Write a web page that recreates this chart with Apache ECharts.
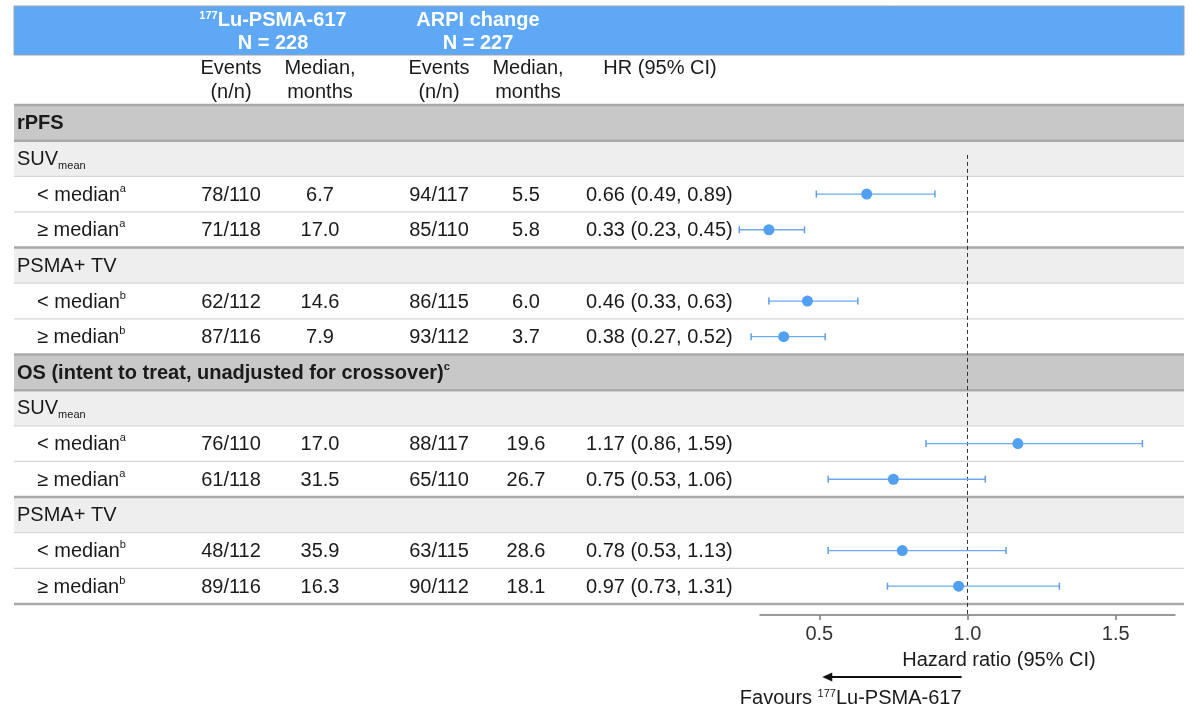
<!DOCTYPE html>
<html>
<head>
<meta charset="utf-8">
<script src="https://cdn.jsdelivr.net/npm/echarts@6/dist/echarts.min.js"></script>
<style>
html, body { margin: 0; padding: 0; background: #fff; }
#main { width: 1200px; height: 718px; }
</style>
</head>
<body>
<div id="main"></div>
<script>
// table rows, top to bottom
var rowLabels = ['rPFS', 'SUV{sub|mean}', '< median{sup|a}', '≥ median{sup|a}', 'PSMA+ TV', '< median{sup|b}', '≥ median{sup|b}',
  'OS (intent to treat, unadjusted for crossover){supb|c}', 'SUV{sub|mean}', '< median{sup|a}', '≥ median{sup|a}', 'PSMA+ TV', '< median{sup|b}', '≥ median{sup|b}'];
var rowKinds = ['section', 'group', 'item', 'item', 'group', 'item', 'item', 'section', 'group', 'item', 'item', 'group', 'item', 'item'];

var luEvents = ['', '', '78/110', '71/118', '', '62/112', '87/116', '', '', '76/110', '61/118', '', '48/112', '89/116'];
var luMedian = ['', '', '6.7', '17.0', '', '14.6', '7.9', '', '', '17.0', '31.5', '', '35.9', '16.3'];
var arpiEvents = ['', '', '94/117', '85/110', '', '86/115', '93/112', '', '', '88/117', '65/110', '', '63/115', '90/112'];
var arpiMedian = ['', '', '5.5', '5.8', '', '6.0', '3.7', '', '', '19.6', '26.7', '', '28.6', '18.1'];
var hr = [null, null, 0.66, 0.33, null, 0.46, 0.38, null, null, 1.17, 0.75, null, 0.78, 0.97];
var hrLow = [null, null, 0.49, 0.23, null, 0.33, 0.27, null, null, 0.86, 0.53, null, 0.53, 0.73];
var hrHigh = [null, null, 0.89, 0.45, null, 0.63, 0.52, null, null, 1.59, 1.06, null, 1.13, 1.31];

var hrTicks = [0.5, 1.0, 1.5];
var hrNull = 1.0;

var FONT = '"Liberation Sans", Arial, Helvetica, sans-serif';
var rich = {
  sup: { fontSize: 11, fontFamily: FONT, fill: '#1a1a1a', verticalAlign: 'top', lineHeight: 12 },
  supb: { fontSize: 11, fontFamily: FONT, fontWeight: 'bold', fill: '#1a1a1a', verticalAlign: 'top', lineHeight: 12 },
  sub: { fontSize: 11, fontFamily: FONT, fill: '#1a1a1a', verticalAlign: 'bottom', lineHeight: 14 }
};

function hrText(i) {
  if (hr[i] == null) return '';
  return hr[i].toFixed(2) + ' (' + hrLow[i].toFixed(2) + ', ' + hrHigh[i].toFixed(2) + ')';
}

// column centres (page x)
var cols = [
  { get: function (i) { return luEvents[i]; }, x: 231, align: 'center' },
  { get: function (i) { return luMedian[i]; }, x: 320, align: 'center' },
  { get: function (i) { return arpiEvents[i]; }, x: 439, align: 'center' },
  { get: function (i) { return arpiMedian[i]; }, x: 526, align: 'center' },
  { get: hrText, x: 586, align: 'left' }
];

var tableData = rowLabels.map(function (l, i) { return [i]; });
var forestData = [];
hr.forEach(function (v, i) {
  if (v != null) forestData.push([v, hrLow[i], hrHigh[i], i]);
});

function renderRow(params, api) {
  var i = api.value(0);
  var kind = rowKinds[i];
  var p0 = api.coord([14, i]);
  var p1 = api.coord([1184, i + 1]);
  var cy = (p0[1] + p1[1]) / 2;
  var children = [];
  if (kind !== 'item') {
    children.push({
      type: 'rect',
      shape: { x: p0[0], y: p0[1], width: p1[0] - p0[0], height: p1[1] - p0[1] },
      style: { fill: kind === 'section' ? '#c8c8c8' : '#eeeeee' }
    });
  }
  children.push({
    type: 'text',
    x: p0[0] + (kind === 'item' ? 23 : 3),
    y: cy + 1,
    style: {
      text: rowLabels[i], fill: '#1a1a1a', fontSize: 20, fontFamily: FONT,
      fontWeight: kind === 'section' ? 'bold' : 'normal',
      align: 'left', verticalAlign: 'middle', lineHeight: 24, rich: rich
    }
  });
  cols.forEach(function (c) {
    var t = c.get(i);
    if (!t) return;
    children.push({
      type: 'text',
      x: api.coord([c.x, i])[0],
      y: cy + 1,
      style: { text: t, fill: '#1a1a1a', fontSize: 20, fontFamily: FONT, align: c.align, verticalAlign: 'middle' }
    });
  });
  // separator below the row
  var next = rowKinds[i + 1];
  var thick = kind === 'section' || next === undefined || next !== 'item' && kind === 'item';
  children.push({
    type: 'line', z2: 5,
    shape: { x1: p0[0], y1: p1[1], x2: p1[0], y2: p1[1] },
    style: { stroke: thick ? '#a9a9a9' : '#d6d6d6', lineWidth: thick ? 2.5 : 1.2 }
  });
  if (i === 0) {
    children.push({
      type: 'line', z2: 5,
      shape: { x1: p0[0], y1: p0[1], x2: p1[0], y2: p0[1] },
      style: { stroke: '#a9a9a9', lineWidth: 2.5 }
    });
  }
  return { type: 'group', children: children };
}

function renderCI(params, api) {
  var row = api.value(3) + 0.5;
  var c = api.coord([api.value(0), row]);
  var lo = api.coord([api.value(1), row]);
  var hi = api.coord([api.value(2), row]);
  var capStyle = { stroke: '#5e9fe6', lineWidth: 1.5 };
  return {
    type: 'group',
    children: [
      { type: 'line', shape: { x1: lo[0], y1: lo[1], x2: hi[0], y2: hi[1] }, style: { stroke: '#6eaaee', lineWidth: 1.3 } },
      { type: 'line', shape: { x1: lo[0], y1: lo[1] - 3.5, x2: lo[0], y2: lo[1] + 3.5 }, style: capStyle },
      { type: 'line', shape: { x1: hi[0], y1: hi[1] - 3.5, x2: hi[0], y2: hi[1] + 3.5 }, style: capStyle },
      { type: 'circle', shape: { cx: c[0], cy: c[1], r: 5.5 }, style: { fill: '#52a0f2' } }
    ]
  };
}

var chart = echarts.init(document.getElementById('main'), null, { renderer: 'canvas' });

var headStyle = { fill: '#fff', fontSize: 20, fontWeight: 'bold', fontFamily: FONT, align: 'center', verticalAlign: 'middle' };
var colHead = { fill: '#1a1a1a', fontSize: 20, fontFamily: FONT, align: 'center', verticalAlign: 'middle' };

function txt(x, y, text, base, extra) {
  return { type: 'text', x: x, y: y, style: Object.assign({ text: text }, base, extra || {}) };
}

var option = {
  animation: false,
  backgroundColor: '#fff',
  grid: [
    { left: 14, right: 16, top: 105, bottom: 114 },   // table
    { left: 760, right: 25, top: 105, bottom: 114 }   // forest plot
  ],
  xAxis: [
    { gridIndex: 0, type: 'value', min: 14, max: 1184, show: false },
    {
      gridIndex: 1, type: 'value', min: 0.3, max: 1.7, position: 'bottom', offset: 11,
      axisLine: { show: true, onZero: false, lineStyle: { color: '#7a7a7a', width: 1.5 } },
      axisTick: { show: true, customValues: hrTicks, length: 5, lineStyle: { color: '#7a7a7a', width: 1.5 } },
      axisLabel: {
        show: true, customValues: hrTicks, color: '#333', fontSize: 20, fontFamily: FONT, margin: 9,
        formatter: function (v) { return v.toFixed(1); }
      },
      splitLine: { show: false }
    }
  ],
  yAxis: [
    { gridIndex: 0, type: 'value', min: 0, max: 14, inverse: true, show: false },
    { gridIndex: 1, type: 'value', min: 0, max: 14, inverse: true, show: false }
  ],
  graphic: [
    { type: 'rect', shape: { x: 14, y: 6, width: 1170, height: 49 }, style: { fill: '#5ea8f5', stroke: '#9aa4ad', lineWidth: 1 } },
    txt(273, 20, '{s|177}Lu-PSMA-617', headStyle, { rich: { s: { fontSize: 11, fill: '#fff', fontWeight: 'bold', fontFamily: FONT, verticalAlign: 'top', lineHeight: 12 } } }),
    txt(273, 43, 'N = 228', headStyle),
    txt(478, 20, 'ARPI change', headStyle),
    txt(478, 43, 'N = 227', headStyle),
    txt(231, 68, 'Events', colHead), txt(231, 92, '(n/n)', colHead),
    txt(320, 68, 'Median,', colHead), txt(320, 92, 'months', colHead),
    txt(439, 68, 'Events', colHead), txt(439, 92, '(n/n)', colHead),
    txt(528, 68, 'Median,', colHead), txt(528, 92, 'months', colHead),
    txt(660, 68, 'HR (95% CI)', colHead),
    txt(999, 660, 'Hazard ratio (95% CI)', colHead)
  ],
  series: [
    {
      type: 'custom', name: 'table', xAxisIndex: 0, yAxisIndex: 0,
      renderItem: renderRow, data: tableData, silent: true, z: 1
    },
    {
      // no-effect reference line at HR = 1
      type: 'line', name: 'ref', xAxisIndex: 1, yAxisIndex: 1,
      data: [[hrNull, 1.4], [hrNull, 14.3]], clip: false, silent: true,
      symbol: 'none', z: 3,
      lineStyle: { type: [4, 3], color: '#333', width: 1 }
    },
    {
      type: 'custom', name: 'HR', xAxisIndex: 1, yAxisIndex: 1,
      renderItem: renderCI, data: forestData, z: 5,
      encode: { x: [0, 1, 2], y: 3 }
    }
  ]
};
chart.setOption(option);

// "Favours" arrow under the axis, anchored to the HR scale
var aFrom = chart.convertToPixel({ xAxisIndex: 1 }, 0.98);
var aTo = chart.convertToPixel({ xAxisIndex: 1 }, 0.51);
var ay = 677;
chart.setOption({
  graphic: option.graphic.concat([
    { type: 'line', shape: { x1: aFrom, y1: ay, x2: aTo + 8, y2: ay }, style: { stroke: '#111', lineWidth: 2 } },
    { type: 'polygon', shape: { points: [[aTo, ay], [aTo + 10, ay - 4.5], [aTo + 10, ay + 4.5]] }, style: { fill: '#111' } },
    txt(aFrom, 698, 'Favours {s|177}Lu-PSMA-617', colHead, {
      align: 'right', rich: { s: { fontSize: 11, fill: '#1a1a1a', fontFamily: FONT, verticalAlign: 'top', lineHeight: 12 } }
    })
  ])
});
</script>
</body>
</html>
